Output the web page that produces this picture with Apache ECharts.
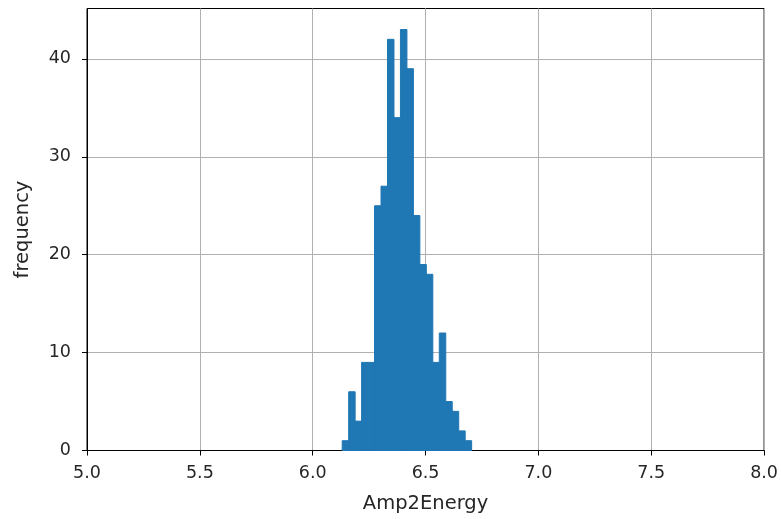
<!DOCTYPE html>
<html>
<head>
<meta charset="utf-8">
<script src="https://cdn.jsdelivr.net/npm/echarts@6/dist/echarts.min.js"></script>
<style>html,body{margin:0;padding:0;background:#fff}#c{width:781px;height:519px}</style>
</head>
<body>
<div id="c"></div>
<script>
// Histogram of Amp2Energy: 20 equal bins
const binStart = 6.1307;
const binEnd = 6.7043;
const counts = [1, 6, 3, 9, 9, 25, 27, 42, 34, 43, 39, 24, 19, 18, 9, 12, 5, 4, 2, 1];
const xTicks = [5.0, 5.5, 6.0, 6.5, 7.0, 7.5, 8.0];
const yTicks = [0, 10, 20, 30, 40];

const binW = (binEnd - binStart) / counts.length;
const data = counts.map((c, i) => [binStart + i * binW, binStart + (i + 1) * binW, c]);

const chart = echarts.init(document.getElementById('c'), null, {renderer: 'canvas'});
const font = 'DejaVu Sans';
chart.setOption({
  animation: false,
  backgroundColor: '#fff',
  grid: {left: 87, right: 14, top: 8.5, bottom: 68.5, show: true, borderColor: '#000', borderWidth: 1, backgroundColor: 'transparent'},
  xAxis: {
    type: 'value', min: 5, max: 8, interval: 0.5,
    name: 'Amp2Energy', nameLocation: 'middle', nameGap: 43,
    nameTextStyle: {fontFamily: font, fontSize: 19.5, color: '#262626'},
    axisLine: {show: true, onZero: false, lineStyle: {color: '#000', width: 1}},
    axisTick: {show: true, length: 5, lineStyle: {color: '#000'}},
    axisLabel: {fontFamily: font, fontSize: 17.5, color: '#262626', margin: 14,
      formatter: v => xTicks.some(t => Math.abs(t - v) < 1e-9) ? v.toFixed(1) : ''},
    splitLine: {show: true, lineStyle: {color: '#b0b0b0', width: 1}}
  },
  yAxis: {
    type: 'value', min: 0, max: 45.15, interval: 10,
    name: 'frequency', nameLocation: 'middle', nameGap: 54,
    nameTextStyle: {fontFamily: font, fontSize: 19.5, color: '#262626'},
    axisLine: {show: true, lineStyle: {color: '#000', width: 1}},
    axisTick: {show: true, length: 5, lineStyle: {color: '#000'}, customValues: yTicks},
    axisLabel: {fontFamily: font, fontSize: 17.5, color: '#262626', margin: 16, customValues: yTicks,
      formatter: v => yTicks.includes(v) ? String(v) : ''},
    splitLine: {show: true, lineStyle: {color: '#b0b0b0', width: 1}}
  },
  series: [{
    type: 'custom',
    renderItem: (params, api) => {
      const p0 = api.coord([api.value(0), 0]);
      const p1 = api.coord([api.value(1), api.value(2)]);
      return {type: 'rect', shape: {x: p0[0], y: p1[1], width: p1[0] - p0[0], height: p0[1] - p1[1]},
        style: {fill: '#1f77b4', stroke: '#1f77b4', lineWidth: 1}};
    },
    encode: {x: [0, 1], y: 2},
    data: data,
    z: 3
  }]
});
</script>
</body>
</html>
